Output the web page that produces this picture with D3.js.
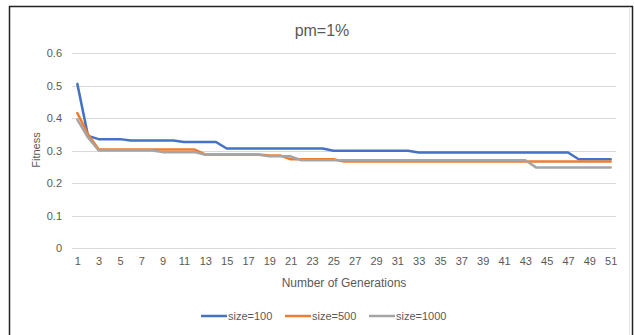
<!DOCTYPE html>
<html>
<head>
<meta charset="utf-8">
<script src="https://cdn.jsdelivr.net/npm/d3@7"></script>
<style>
  body { margin: 0; background: #fff; }
  svg text { font-family: "Liberation Sans", Arial, sans-serif; fill: #595959; }
</style>
</head>
<body>
<div id="chart"></div>
<script>
// data
var generations = d3.range(1, 52);
var yTicks = [0, 0.1, 0.2, 0.3, 0.4, 0.5, 0.6];
var seriesNames = ["size=100", "size=500", "size=1000"];
var seriesColors = ["#4472C4", "#ED7D31", "#A5A5A5"];

var size100 = [0.505, 0.345,
  0.335, 0.335, 0.335,
  0.331, 0.331, 0.331, 0.331, 0.331,
  0.326, 0.326, 0.326, 0.326,
  0.306, 0.306, 0.306, 0.306, 0.306, 0.306, 0.306, 0.306, 0.306, 0.306,
  0.299, 0.299, 0.299, 0.299, 0.299, 0.299, 0.299, 0.299,
  0.294, 0.294, 0.294, 0.294, 0.294, 0.294, 0.294, 0.294, 0.294, 0.294, 0.294, 0.294, 0.294, 0.294, 0.294,
  0.273, 0.273, 0.273, 0.273];

var size500 = [0.415, 0.35,
  0.303, 0.303, 0.303, 0.303, 0.303, 0.303, 0.303, 0.303, 0.303, 0.303,
  0.288, 0.288, 0.288, 0.288, 0.288, 0.288, 0.285, 0.285,
  0.273, 0.273, 0.273, 0.273, 0.273,
  0.266, 0.266, 0.266, 0.266, 0.266, 0.266, 0.266, 0.266, 0.266, 0.266, 0.266, 0.266, 0.266,
  0.266, 0.266, 0.266, 0.266, 0.266, 0.266, 0.266, 0.266, 0.266, 0.266, 0.266, 0.266, 0.266];

var size1000 = [0.395, 0.34,
  0.300, 0.300, 0.300, 0.300, 0.300, 0.300,
  0.295, 0.295, 0.295, 0.295,
  0.287, 0.287, 0.287, 0.287, 0.287, 0.287,
  0.282, 0.282, 0.282,
  0.270, 0.270, 0.270, 0.270, 0.270, 0.270, 0.270, 0.270, 0.270, 0.270, 0.270,
  0.270, 0.270, 0.270, 0.270, 0.270, 0.270, 0.270, 0.270, 0.270, 0.270, 0.270,
  0.248, 0.248, 0.248, 0.248, 0.248, 0.248, 0.248, 0.248];

var allSeries = [size100, size500, size1000];

var svgWidth = 634;
var svgHeight = 335;

var svg = d3.select("#chart")
  .append("svg")
  .attr("width", svgWidth)
  .attr("height", svgHeight);

// chart frame
svg.append("line").attr("x1", 9).attr("y1", 6.5).attr("x2", 633).attr("y2", 6.5)
  .attr("stroke", "#222").attr("stroke-width", 1.5);
svg.append("line").attr("x1", 9.5).attr("y1", 6).attr("x2", 9.5).attr("y2", 335)
  .attr("stroke", "#222").attr("stroke-width", 1.5);
svg.append("line").attr("x1", 632.5).attr("y1", 6).attr("x2", 632.5).attr("y2", 335)
  .attr("stroke", "#222").attr("stroke-width", 1.5);
svg.append("line").attr("x1", 629.5).attr("y1", 7).attr("x2", 629.5).attr("y2", 335)
  .attr("stroke", "#e6e6e6").attr("stroke-width", 1);

// scales
var x = d3.scalePoint()
  .domain(generations)
  .range([72, 616])
  .padding(0.5);

var y = d3.scaleLinear()
  .domain([0, 0.6])
  .range([248, 53]);

// gridlines
svg.append("g")
  .selectAll("line")
  .data(yTicks)
  .enter()
  .append("line")
  .attr("x1", 72)
  .attr("x2", 616)
  .attr("y1", d => Math.round(y(d)) + 0.5)
  .attr("y2", d => Math.round(y(d)) + 0.5)
  .attr("stroke", "#d9d9d9")
  .attr("stroke-width", 1);

// y axis labels
var leftAxis = d3.axisLeft(y).tickValues(yTicks).tickSize(0).tickPadding(0)
  .tickFormat(d => d === 0 ? "0" : d3.format(".1f")(d));
var yAxisG = svg.append("g")
  .attr("transform", "translate(62,0)")
  .call(leftAxis);
yAxisG.select(".domain").remove();
yAxisG.selectAll("text").attr("font-size", 11).attr("font-family", null);

// x axis labels (every other generation)
var bottomAxis = d3.axisBottom(x)
  .tickValues(generations.filter(d => d % 2 === 1))
  .tickSize(0).tickPadding(0);
var xAxisG = svg.append("g")
  .attr("transform", "translate(0,257)")
  .call(bottomAxis);
xAxisG.select(".domain").remove();
xAxisG.selectAll("text").attr("font-size", 11).attr("font-family", null);

// lines
var line = d3.line()
  .x((d, i) => x(generations[i]))
  .y(d => y(d));

svg.append("g")
  .selectAll("path")
  .data(allSeries)
  .enter()
  .append("path")
  .attr("d", line)
  .attr("fill", "none")
  .attr("stroke", (d, i) => seriesColors[i])
  .attr("stroke-width", 2.5)
  .attr("stroke-linejoin", "round")
  .attr("stroke-linecap", "round");

// titles
svg.append("text")
  .attr("x", 322)
  .attr("y", 36)
  .attr("text-anchor", "middle")
  .attr("font-size", 16)
  .text("pm=1%");

svg.append("text")
  .attr("x", 344)
  .attr("y", 287)
  .attr("text-anchor", "middle")
  .attr("font-size", 12)
  .text("Number of Generations");

svg.append("text")
  .attr("transform", "translate(40,150) rotate(-90)")
  .attr("text-anchor", "middle")
  .attr("font-size", 11)
  .text("Fitness");

// legend
var legendX = [201, 285, 369];
var legend = svg.append("g")
  .selectAll("g")
  .data(seriesNames)
  .enter()
  .append("g")
  .attr("transform", (d, i) => `translate(${legendX[i]},316)`);

legend.append("line")
  .attr("x1", 0).attr("x2", 26)
  .attr("y1", 0).attr("y2", 0)
  .attr("stroke", (d, i) => seriesColors[i])
  .attr("stroke-width", 2.5);

legend.append("text")
  .attr("x", 27)
  .attr("y", 4)
  .attr("font-size", 11)
  .text(d => d);
</script>
</body>
</html>
